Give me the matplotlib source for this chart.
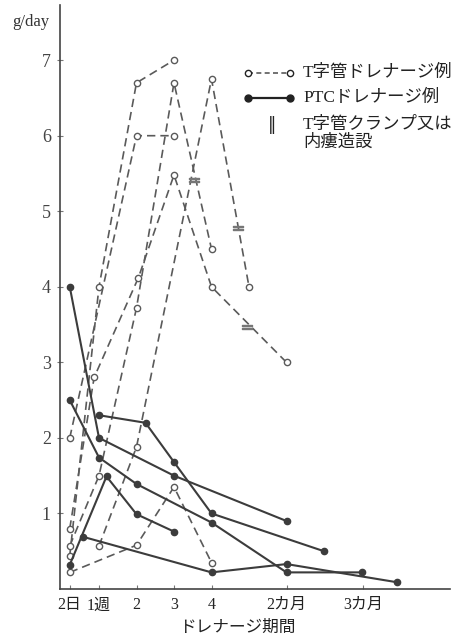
import matplotlib
matplotlib.use("Agg")
import matplotlib.pyplot as plt

plt.rcParams['font.family'] = ['Liberation Serif', 'Noto Sans CJK JP']

# x positions are in weeks after drainage (compressed after 4 weeks)
tick_pos = [0.22, 1, 2, 3, 4, 6.0, 8.04]
tick_labels = ['2日', '1週', '2', '3', '4', '2カ月', '3カ月']

# T-tube drainage cases (dashed, open circles)
t_tube = [
    ([0.22, 1.0, 2.0, 3.0], [0.44, 4.0, 6.7, 7.0]),
    ([0.22, 2.0, 3.0], [2.0, 6.0, 6.0]),
    ([0.22, 0.87, 2.05, 3.0, 4.0, 6.0], [0.8, 2.8, 4.12, 5.48, 4.0, 3.0]),
    ([0.22, 1.0, 2.0, 3.0, 4.0], [0.57, 1.5, 3.72, 6.7, 4.5]),
    ([1.0, 2.0, 4.0, 5.0], [0.57, 1.88, 6.75, 4.0]),
    ([0.22, 2.0, 3.0, 4.0], [0.22, 0.58, 1.35, 0.35]),
]

# PTC drainage cases (solid, filled circles)
ptc = [
    ([1.0, 2.24, 3.0, 4.0, 7.0], [2.3, 2.2, 1.68, 1.0, 0.5]),
    ([0.22, 1.0, 3.0, 6.0], [4.0, 2.0, 1.5, 0.9]),
    ([0.22, 1.0, 2.0, 4.0, 6.0, 8.0], [2.5, 1.74, 1.39, 0.88, 0.22, 0.22]),
    ([0.22, 1.2, 2.0, 3.0], [0.32, 1.49, 0.99, 0.76]),
    ([0.58, 4.0, 6.0, 8.94], [0.69, 0.22, 0.33, 0.09]),
]

# T-tube clamped / internal fistula made
clamp_x = [3.53, 4.71, 4.94]
clamp_y = [5.42, 4.78, 3.47]

fig = plt.figure(figsize=(4.66, 6.39), dpi=100)
ax = fig.add_axes([60 / 466, 50 / 639, 390 / 466, 584 / 639])

dash_col = '#5a5a5a'
solid_col = '#3c3c3c'

for xs, ys in t_tube:
    ax.plot(xs, ys, color=dash_col, lw=1.2, ls=(0, (5, 3)),
            marker='o', ms=4.5, mfc='white', mec=dash_col, mew=1.0)

for xs, ys in ptc:
    ax.plot(xs, ys, color=solid_col, lw=1.5, ls='-',
            marker='o', ms=4.5, mfc=solid_col, mec=solid_col)

ax.plot(clamp_x, clamp_y, ls='none', marker='$=$', ms=7, color='#777777')

ax.set_xlim(-0.04, 10.36)
ax.set_ylim(0, 7.73)
for s in ['top', 'right']:
    ax.spines[s].set_visible(False)
for s in ['left', 'bottom']:
    ax.spines[s].set_color('#444444')
    ax.spines[s].set_linewidth(1.2)

ax.set_xticks(tick_pos)
ax.set_xticklabels(tick_labels, fontsize=11.5, color='#222222')
ax.set_yticks(range(1, 8))
ax.set_yticklabels([str(v) for v in range(1, 8)], fontsize=13, color='#444444')
ax.tick_params(axis='x', direction='in', length=3, color='#777777', pad=6)
ax.tick_params(axis='y', direction='inout', length=5, color='#777777', pad=4)

fig.text(31 / 466, 1 - 22 / 639, 'g/day', fontsize=12, color='#333333',
         ha='center', va='center')
fig.text(237 / 466, 1 - 628 / 639, 'ドレナージ期間', fontsize=12,
         color='#222222', ha='center', va='center')

# legend drawn by hand
lx0, lx1, tx = 248 / 466, 290 / 466, 303 / 466
fig.add_artist(plt.Line2D([lx0, lx1], [1 - 73 / 639] * 2, color=dash_col,
                          lw=1.2, ls=(0, (3, 2)), marker='o', ms=4.5,
                          mfc='white', mec='#222222'))
fig.add_artist(plt.Line2D([lx0, lx1], [1 - 98 / 639] * 2, color='#222222',
                          lw=1.6, marker='o', ms=5, mfc='#222222'))
fig.text(tx, 1 - 73 / 639, 'T字管ドレナージ例', fontsize=12.5,
         color='#222222', va='center')
fig.text(tx, 1 - 98 / 639, 'PTCドレナージ例', fontsize=12.5,
         color='#222222', va='center')
fig.text(272 / 466, 1 - 125 / 639, '‖', fontsize=12, color='#222222',
         ha='center', va='center', family=['DejaVu Sans'])
fig.text(tx, 1 - 125 / 639, 'T字管クランプ又は', fontsize=12.5,
         color='#222222', va='center')
fig.text(tx, 1 - 143 / 639, '内瘻造設', fontsize=12.5,
         color='#222222', va='center')

fig.savefig('out.png', dpi=100)
